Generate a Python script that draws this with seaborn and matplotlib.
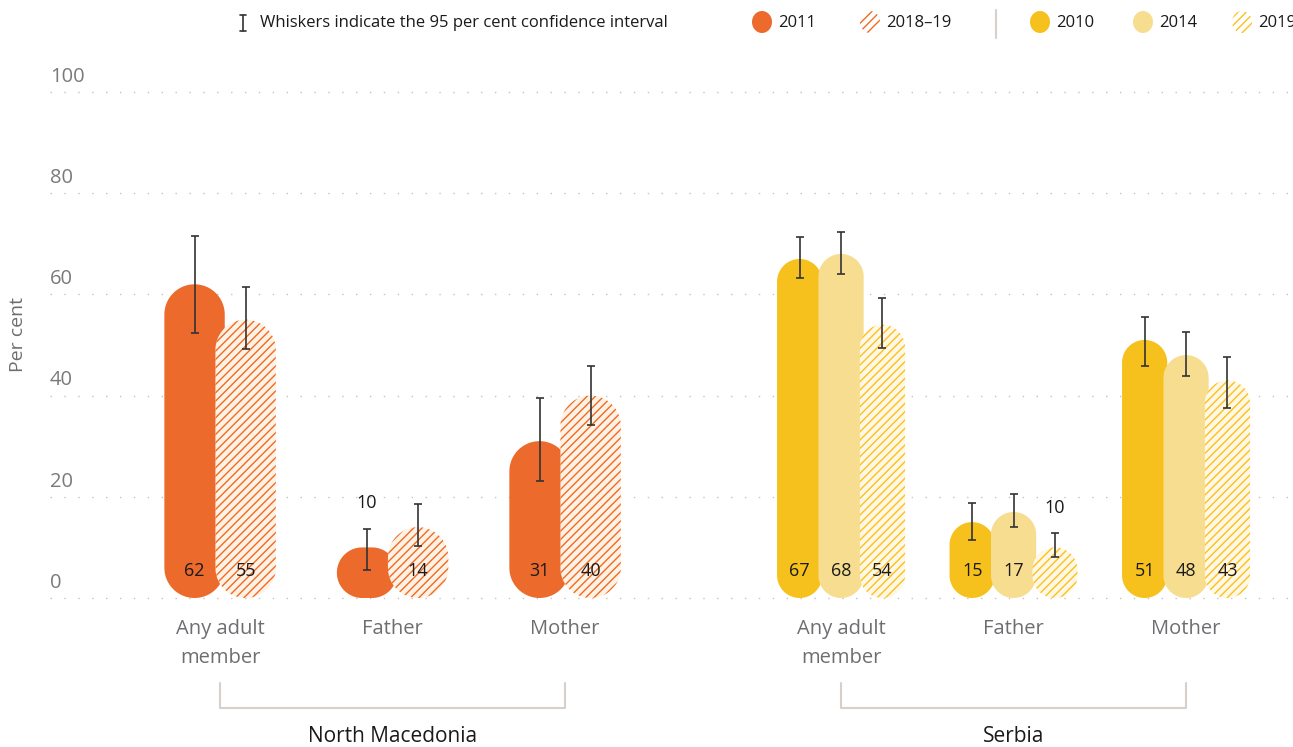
import numpy as np
import pandas as pd
import matplotlib.pyplot as plt
import seaborn as sns
from matplotlib.patches import Polygon, Ellipse

categories = ["Any adult\nmember", "Father", "Mother"]
countries = ["North Macedonia", "Serbia"]

# North Macedonia
mkd_years = ["2011", "2018–19"]
mkd_2011 = [62, 10, 31]
mkd_2011_lo = [52.4, 5.5, 23.1]
mkd_2011_hi = [71.6, 13.7, 39.5]
mkd_2019 = [55, 14, 40]
mkd_2019_lo = [49.2, 10.3, 34.2]
mkd_2019_hi = [61.5, 18.6, 45.8]

# Serbia
srb_years = ["2010", "2014", "2019"]
srb_2010 = [67, 15, 51]
srb_2010_lo = [63.2, 11.5, 45.8]
srb_2010_hi = [71.3, 18.8, 55.5]
srb_2014 = [68, 17, 48]
srb_2014_lo = [64.0, 14.0, 43.9]
srb_2014_hi = [72.3, 20.6, 52.6]
srb_2019 = [54, 10, 43]
srb_2019_lo = [49.4, 8.1, 37.5]
srb_2019_hi = [59.3, 12.8, 47.6]

yticks = [0, 20, 40, 60, 80, 100]

ORANGE = "#EC6A2C"
YELLOW = "#F6C11D"
YELLOW_LT = "#F7DD8F"
# (face colour, hatch colour)
styles = {
    "2011": (ORANGE, None),
    "2018–19": ("#FEF2E6", "#F26A21"),
    "2010": (YELLOW, None),
    "2014": (YELLOW_LT, None),
    "2019": ("#FFF8E6", "#FDC01A"),
}

series = {
    "North Macedonia": [("2011", mkd_2011, mkd_2011_lo, mkd_2011_hi),
                        ("2018–19", mkd_2019, mkd_2019_lo, mkd_2019_hi)],
    "Serbia": [("2010", srb_2010, srb_2010_lo, srb_2010_hi),
               ("2014", srb_2014, srb_2014_lo, srb_2014_hi),
               ("2019", srb_2019, srb_2019_lo, srb_2019_hi)],
}

# layout (category units)
group_start = {"North Macedonia": 0.0, "Serbia": 3.6}
bar_step = {"North Macedonia": 0.296, "Serbia": 0.24}
bar_width = {"North Macedonia": 0.35, "Serbia": 0.262}
HATCH = "////"

rows = []
for country in countries:
    sers = series[country]
    n = len(sers)
    for j, cat in enumerate(categories):
        center = group_start[country] + j
        for k, (year, vals, lo, hi) in enumerate(sers):
            rows.append(dict(country=country, category=cat, center=center,
                             series=year, order=k,
                             pos=center + (k - (n - 1) / 2) * bar_step[country],
                             value=vals[j], lo=lo[j], hi=hi[j]))
df = pd.DataFrame(rows)

sns.set_theme(style="white")
plt.rcParams["font.family"] = ["Open Sans", "DejaVu Sans"]
plt.rcParams["hatch.linewidth"] = 1.0

fig = plt.figure(figsize=(12.93, 7.47), dpi=100)
ax = fig.add_axes([50 / 1293, 149 / 747, 1243 / 1293, 506 / 747])

sns.barplot(data=df, x="pos", y="value", hue="series",
            hue_order=list(styles.keys()),
            palette={k: v[0] for k, v in styles.items()},
            native_scale=True, dodge=False, errorbar=None, legend=False, ax=ax)

xlim = (-0.986, 6.22)
ylim = (0, 100)
ax.set_xlim(*xlim)
ax.set_ylim(*ylim)
bb = ax.get_position()
w_px = bb.width * fig.get_figwidth() * fig.dpi
h_px = bb.height * fig.get_figheight() * fig.dpi
aspect = ((ylim[1] - ylim[0]) / h_px) / ((xlim[1] - xlim[0]) / w_px)


def pill_vertices(x0, w, h, n=24):
    """Rounded rectangle whose corners are circular on screen."""
    r = min(w, h / aspect) / 2
    ry = r * aspect
    x1, y1 = x0 + w, h
    corners = [(x1 - r, y1 - ry, 0), (x0 + r, y1 - ry, 90),
               (x0 + r, ry, 180), (x1 - r, ry, 270)]
    pts = []
    for cx, cy, a0 in corners:
        t = np.radians(np.linspace(a0, a0 + 90, n))
        pts += list(zip(cx + r * np.cos(t), cy + ry * np.sin(t)))
    return np.array(pts)


# turn seaborn's rectangles into pill-shaped bars
for p in list(ax.patches):
    cx = p.get_x() + p.get_width() / 2
    row = df.iloc[(df["pos"] - cx).abs().argmin()]
    w = bar_width[row["country"]]
    face, hatch_col = styles[row["series"]]
    pill = Polygon(pill_vertices(row["pos"] - w / 2, w, p.get_height()),
                   closed=True, facecolor=face,
                   edgecolor=hatch_col if hatch_col else "none",
                   hatch=HATCH if hatch_col else None,
                   linewidth=0, zorder=2 + row["order"])
    ax.add_patch(pill)
    p.remove()

# confidence whiskers
ax.errorbar(df["pos"], (df["lo"] + df["hi"]) / 2, yerr=(df["hi"] - df["lo"]) / 2,
            fmt="none", ecolor="#333333", elinewidth=1.2, capsize=3, capthick=1.2,
            zorder=10)

# value labels
for _, row in df.iterrows():
    y = row["hi"] + 5 if row["value"] <= 10 else 5.3
    ax.text(row["pos"], y, f"{row['value']:g}", ha="center", va="center",
            fontsize=13, color="#1a1a1a", zorder=11)

# dotted gridlines and y labels
for t in yticks:
    ax.axhline(t, color="#c9c2ba", lw=1.0, linestyle=(0, (1, 9)), zorder=0,
               clip_on=False)
    ax.text(0.0, t + 2.0, str(t), transform=ax.get_yaxis_transform(),
            ha="left", va="baseline", fontsize=14.5, color="#7a7a7a")
ax.set_yticks([])
ax.set_ylabel("")
ax.set_xlabel("")
sns.despine(ax=ax, left=True, bottom=True)

centers = sorted(df["center"].unique())
ax.set_xticks(centers, labels=categories * len(countries))
ax.tick_params(axis="x", length=0, pad=15, labelsize=14.5, labelcolor="#6d6e71")
for lbl in ax.get_xticklabels():
    lbl.set_linespacing(1.6)

# overlay in pixel coordinates for legend, brackets and labels
ov = fig.add_axes([0, 0, 1, 1], zorder=5)
ov.set_xlim(0, 1293)
ov.set_ylim(747, 0)
ov.axis("off")

ov.text(18, 335, "Per cent", rotation=90, ha="center", va="center",
        fontsize=14, color="#6d6e71")

for country in countries:
    cs = df.loc[df["country"] == country, "center"]
    x0 = ax.transData.transform((cs.min(), 0))[0]
    x1 = ax.transData.transform((cs.max(), 0))[0]
    ov.plot([x0, x0, x1, x1], [683, 708, 708, 683], color="#d8d0c8", lw=1.5)
    ov.text((x0 + x1) / 2, 737, country, ha="center", va="center",
            fontsize=15, color="#1a1a1a")

# legend (the last year label runs off the right edge, as in the source)
ov.plot([243, 243], [15, 31], color="#333333", lw=1.2)
ov.plot([240, 246], [15, 15], color="#333333", lw=1.2)
ov.plot([240, 246], [31, 31], color="#333333", lw=1.2)
ov.text(260, 23, "Whiskers indicate the 95 per cent confidence interval",
        ha="left", va="center", fontsize=12, color="#1a1a1a")

legend_items = [("2011", 762), ("2018–19", 870), ("2010", 1040),
                ("2014", 1143), ("2019", 1242)]
for year, x in legend_items:
    face, hatch_col = styles[year]
    if hatch_col:
        e = Ellipse((x, 22), 20, 22, facecolor="white", edgecolor=hatch_col,
                    hatch=HATCH, linewidth=0)
    else:
        e = Ellipse((x, 22), 20, 22, facecolor=face, edgecolor="none")
    ov.add_patch(e)
    ov.text(x + 16, 23, year, ha="left", va="center", fontsize=12,
            color="#1a1a1a")
ov.plot([996, 996], [10, 38], color="#d8d0c8", lw=1.5)

fig.savefig("out.png", dpi=100, facecolor="white")
